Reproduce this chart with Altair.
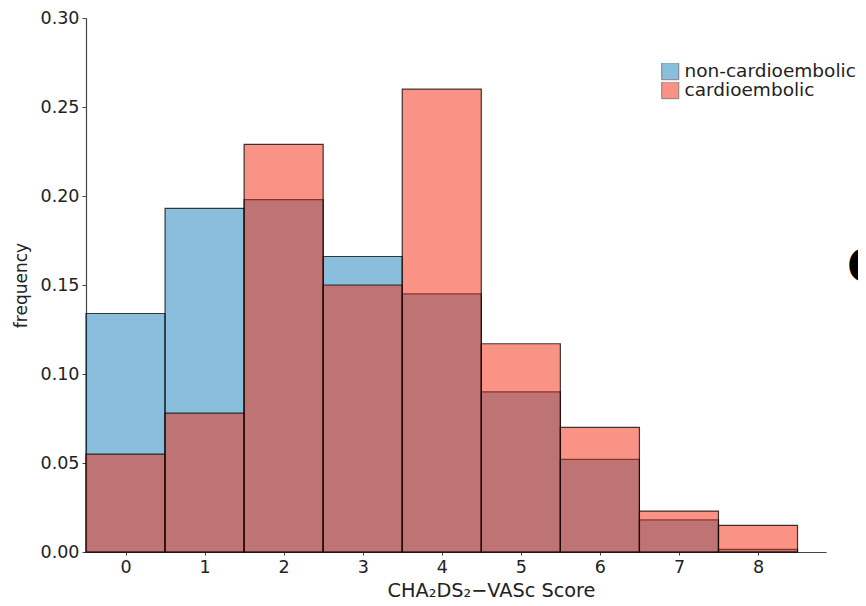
import altair as alt
import pandas as pd

scores = [0, 1, 2, 3, 4, 5, 6, 7, 8]
non_cardio = [0.134, 0.193, 0.198, 0.166, 0.145, 0.090, 0.052, 0.018, 0.0015]
cardio = [0.055, 0.078, 0.229, 0.150, 0.260, 0.117, 0.070, 0.023, 0.015]
groups = ["non-cardioembolic", "cardioembolic"]
colors = ["#1380B9", "#F3270B"]
y_ticks = [0.0, 0.05, 0.10, 0.15, 0.20, 0.25, 0.30]

rows = []
for g, vals in zip(groups, [non_cardio, cardio]):
    for s, v in zip(scores, vals):
        rows.append({"group": g, "score": s, "x0": s - 0.5, "x1": s + 0.5, "freq": v})
df = pd.DataFrame(rows)

FONT = "DejaVu Sans"

bars = alt.Chart(df).mark_bar(
    fillOpacity=0.5, stroke="black", strokeWidth=1.2, strokeOpacity=0.75
).encode(
    x=alt.X("x0:Q", scale=alt.Scale(domain=[-0.5, 8.86], nice=False, zero=False),
            axis=alt.Axis(values=scores, format="d", title="CHA₂DS₂−VASc Score",
                          tickSize=3, labelPadding=3, titleX=405, titleY=29,
                          titleAlign="center", titleBaseline="top", titleFontSize=19.3)),
    x2="x1:Q",
    y=alt.Y("freq:Q", stack=None, scale=alt.Scale(domain=[0, 0.3], nice=False),
            axis=alt.Axis(values=y_ticks, format=".2f", title="frequency",
                          tickSize=4, labelPadding=3, titlePadding=10)),
    y2=alt.datum(0),
    color=alt.Color("group:N", scale=alt.Scale(domain=groups, range=colors),
                    legend=alt.Legend(title=None, orient="none", legendX=575, legendY=45,
                                      symbolType="square", symbolSize=289,
                                      symbolOpacity=0.5, symbolStrokeColor="black",
                                      symbolStrokeWidth=1, rowPadding=0, clipHeight=16.5,
                                      labelOffset=5, labelFontSize=18.5, labelFont=FONT,
                                      labelLimit=400, labelColor="#222")),
    order=alt.Order("order_idx:Q"),
).transform_calculate(order_idx="datum.group == 'non-cardioembolic' ? 0 : 1")

panel = alt.Chart(pd.DataFrame({"t": ["C"]})).mark_text(
    font=FONT, fontSize=46, fontWeight="bold", align="left", baseline="middle", color="black"
).encode(x=alt.value(761), y=alt.value(250), text="t:N")

chart = alt.layer(bars, panel).properties(
    width=740, height=534,
    autosize=alt.AutoSizeParams(type="none"),
    padding={"left": 78, "top": 10, "right": 32, "bottom": 48},
).configure_view(stroke=None).configure_axis(
    grid=False, domainColor="#444", tickColor="#444", labelColor="#222", titleColor="#222",
    labelFont=FONT, titleFont=FONT, labelFontSize=17.5, titleFontSize=17,
    titleFontWeight="normal", domainWidth=1.2
)

chart.save("out.html", embed_options={"renderer": "svg", "actions": False})
